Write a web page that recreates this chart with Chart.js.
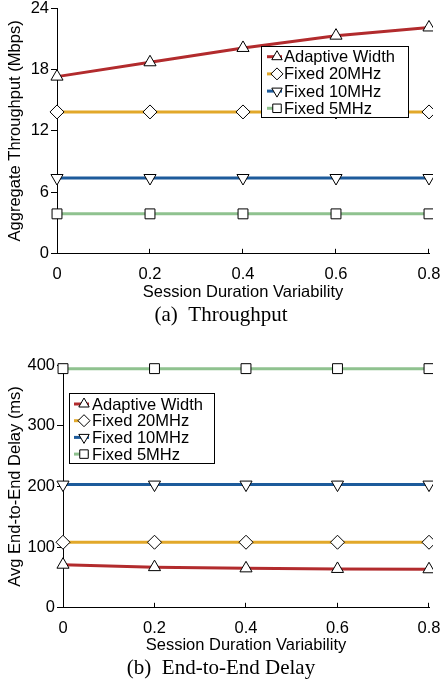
<!DOCTYPE html>
<html>
<head>
<meta charset="utf-8">
<script src="https://cdn.jsdelivr.net/npm/chart.js@4.4.1/dist/chart.umd.min.js"></script>
<style>
html, body { margin: 0; padding: 0; background: #fff; }
#wrap { position: relative; width: 442px; height: 681px; }
.box { position: absolute; left: 0; width: 442px; }
#boxA { top: 0; height: 330px; }
#boxB { top: 330px; height: 351px; }
</style>
</head>
<body>
<div id="wrap">
  <div class="box" id="boxA"><canvas id="chartA"></canvas></div>
  <div class="box" id="boxB"><canvas id="chartB"></canvas></div>
</div>
<script>
// x categories (session duration variability)
const xLabels = ['0', '0.2', '0.4', '0.6', '0.8'];
const seriesNames = ['Adaptive Width', 'Fixed 20MHz', 'Fixed 10MHz', 'Fixed 5MHz'];

// (a) aggregate throughput, Mbps
const adaptiveTput = [17.3, 18.7, 20.1, 21.3, 22.1];
const fixed20Tput = [13.85, 13.85, 13.85, 13.85, 13.85];
const fixed10Tput = [7.4, 7.4, 7.4, 7.4, 7.4];
const fixed5Tput = [3.9, 3.9, 3.9, 3.9, 3.9];
const tputTicks = [0, 6, 12, 18, 24];

// (b) avg end-to-end delay, ms
const adaptiveDelay = [71, 67, 65, 64, 63.5];
const fixed20Delay = [108, 108, 108, 108, 108];
const fixed10Delay = [203, 203, 203, 203, 203];
const fixed5Delay = [394, 394, 394, 394, 394];
const delayTicks = [0, 100, 200, 300, 400];

const COLORS = ['#b22b2d', '#e2a82a', '#1d5b9b', '#8fc28f'];
const MARKERS = [['triangle', 0], ['rectRot', 0], ['triangle', 180], ['rect', 0]];
const FONT = 'Liberation Sans';

Chart.defaults.font.family = FONT;
Chart.defaults.font.size = 16.5;
Chart.defaults.color = '#000';

//Draws the boxed legend inside the plot
const boxLegend = {
    id: 'boxLegend',
    afterDraw(chart, args, opts) {
        const ctx = chart.ctx;
        ctx.save();
        ctx.fillStyle = '#fff';
        ctx.fillRect(opts.x, opts.y, opts.w, opts.h);
        ctx.strokeStyle = '#000';
        ctx.lineWidth = 1;
        ctx.strokeRect(opts.x + 0.5, opts.y + 0.5, opts.w, opts.h);
        chart.data.datasets.forEach((ds, i) => {
            const cy = opts.y + opts.firstRow + i * opts.rowGap;
            const cx = opts.x + opts.markerX;
            ctx.strokeStyle = ds.borderColor;
            ctx.lineWidth = 3;
            ctx.beginPath();
            ctx.moveTo(cx - 10, cy);
            ctx.lineTo(cx + 5, cy);
            ctx.stroke();
            ctx.fillStyle = '#fff';
            ctx.strokeStyle = '#000';
            ctx.lineWidth = 1;
            Chart.helpers.drawPoint(ctx, {
                pointStyle: ds.pointStyle, rotation: ds.pointRotation,
                radius: 6, borderWidth: 1
            }, cx, cy);
            ctx.fillStyle = '#000';
            ctx.font = '16.5px "' + FONT + '"';
            ctx.textBaseline = 'middle';
            ctx.textAlign = 'left';
            ctx.fillText(ds.label, opts.x + opts.textX, cy + 1);
        });
        ctx.restore();
    }
};

//Small x ticks pointing into the plot
const innerTicks = {
    id: 'innerTicks',
    beforeDatasetsDraw(chart) {
        const sx = chart.scales.x;
        const ctx = chart.ctx;
        const b = chart.chartArea.bottom;
        ctx.save();
        ctx.strokeStyle = '#000';
        ctx.lineWidth = 1;
        for (let i = 1; i < sx.ticks.length; i++) {
            const px = Math.round(sx.getPixelForTick(i)) - 0.5;
            ctx.beginPath();
            ctx.moveTo(px, b);
            ctx.lineTo(px, b - 5);
            ctx.stroke();
        }
        ctx.restore();
    }
};

function makeDatasets(values) {
    return values.map((v, i) => ({
        label: seriesNames[i],
        data: v,
        borderColor: COLORS[i],
        backgroundColor: COLORS[i],
        borderWidth: 3,
        tension: 0,
        pointStyle: MARKERS[i][0],
        pointRotation: MARKERS[i][1],
        pointRadius: 7,
        pointHoverRadius: 7,
        pointBackgroundColor: '#fff',
        pointBorderColor: '#000',
        pointBorderWidth: 1,
        clip: { left: 12, top: 12, right: 4, bottom: 12 }
    }));
}

function makeChart(id, cfg) {
    return new Chart(document.getElementById(id), {
        type: 'line',
        data: { labels: xLabels, datasets: makeDatasets(cfg.values) },
        options: {
            responsive: true,
            maintainAspectRatio: false,
            animation: false,
            layout: { padding: cfg.padding },
            scales: {
                x: {
                    type: 'category',
                    offset: false,
                    ticks: { padding: cfg.xTickPad, maxRotation: 0, autoSkip: false },
                    grid: { drawOnChartArea: false, drawTicks: false },
                    border: { color: '#000', width: 1 },
                    title: {
                        display: true, text: 'Session Duration Variability',
                        padding: { top: 0, bottom: 0 }
                    },
                    afterFit(s) {
                        s.height = cfg.xHeight;
                        s.paddingLeft = 0;
                        s.paddingRight = 13;
                    }
                },
                y: {
                    min: cfg.yTicks[0],
                    max: cfg.yTicks[cfg.yTicks.length - 1],
                    afterBuildTicks(s) { s.ticks = cfg.yTicks.map(v => ({ value: v })); },
                    ticks: { padding: 2 },
                    grid: { drawOnChartArea: false, drawTicks: true, tickLength: 6, color: '#000' },
                    border: { color: '#000', width: 1 },
                    title: {
                        display: true, text: cfg.yTitle,
                        padding: { top: 6, bottom: 0 }
                    },
                    afterFit(s) {
                        s.width = cfg.yWidth;
                        s.paddingTop = 0;
                        s.paddingBottom = 0;
                    }
                }
            },
            plugins: {
                legend: { display: false },
                tooltip: { enabled: false },
                title: {
                    display: true,
                    position: 'bottom',
                    text: cfg.caption,
                    color: '#000',
                    font: { family: 'Liberation Serif', size: 21, weight: 'normal' },
                    padding: { top: 0, bottom: 0 }
                },
                boxLegend: cfg.legend
            }
        },
        plugins: [innerTicks, boxLegend]
    });
}

makeChart('chartA', {
    values: [adaptiveTput, fixed20Tput, fixed10Tput, fixed5Tput],
    yTicks: tputTicks,
    yTitle: 'Aggregate Throughput (Mbps)',
    caption: '(a)  Throughput',
    padding: { top: 7, right: 0, left: 0, bottom: 2 },
    xTickPad: 11,
    xHeight: 49,
    yWidth: 57,
    legend: { x: 261, y: 46, w: 147, h: 71, markerX: 16, textX: 23, firstRow: 10.7, rowGap: 17.2 }
});

makeChart('chartB', {
    values: [adaptiveDelay, fixed20Delay, fixed10Delay, fixed5Delay],
    yTicks: delayTicks,
    yTitle: 'Avg End-to-End Delay (ms)',
    caption: '(b)  End-to-End Delay',
    padding: { top: 35, right: 0, left: 0, bottom: 0 },
    xTickPad: 11,
    xHeight: 48,
    yWidth: 63,
    legend: { x: 69, y: 63, w: 145, h: 70, markerX: 15, textX: 23, firstRow: 11, rowGap: 16.7 }
});
</script>
</body>
</html>
